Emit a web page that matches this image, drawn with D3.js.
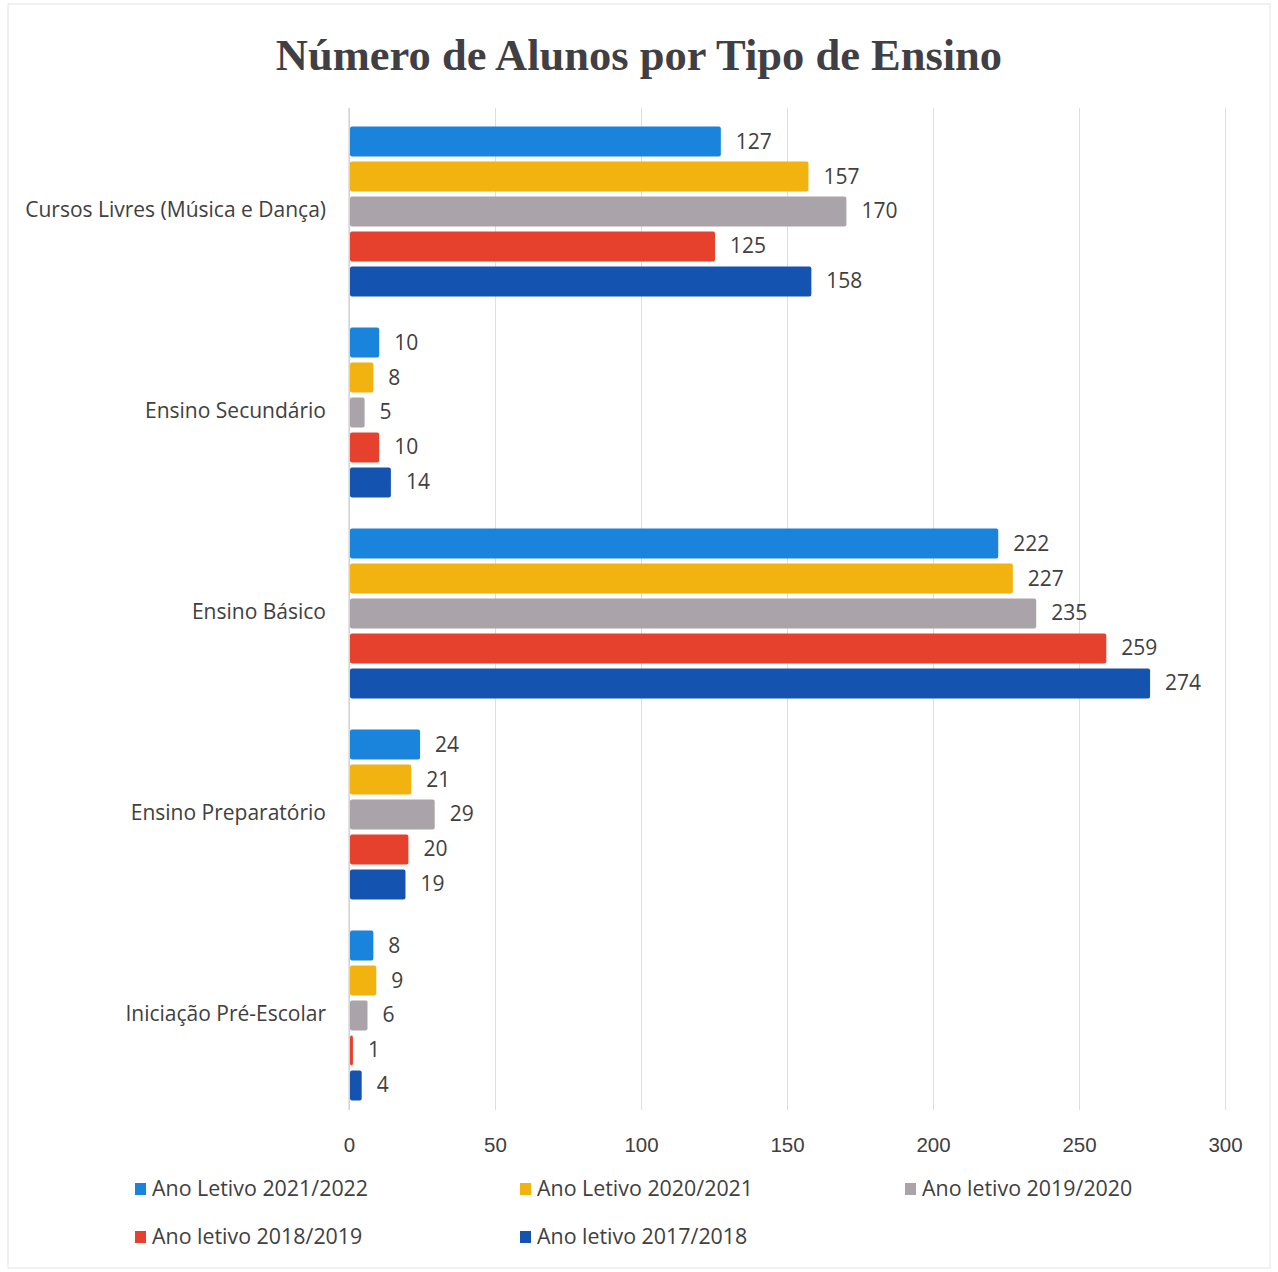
<!DOCTYPE html>
<html>
<head>
<meta charset="utf-8">
<script src="https://cdn.jsdelivr.net/npm/d3@7"></script>
<style>
  body { margin: 0; background: #fff; }
  svg text { fill: #404040; }
</style>
</head>
<body>
<div id="chart"></div>
<script>
// categorias (de cima para baixo)
const categorias = ["Cursos Livres (Música e Dança)", "Ensino Secundário", "Ensino Básico", "Ensino Preparatório", "Iniciação Pré-Escolar"]
// séries (anos letivos)
const series = ["Ano Letivo 2021/2022", "Ano Letivo 2020/2021", "Ano letivo 2019/2020", "Ano letivo 2018/2019", "Ano letivo 2017/2018"]
const cores = ["#1a84dc", "#f2b20f", "#aaa3a9", "#e6412c", "#1453b0"]
// valores por série, na ordem das categorias
const v2021 = [127, 10, 222, 24, 8]
const v2020 = [157, 8, 227, 21, 9]
const v2019 = [170, 5, 235, 29, 6]
const v2018 = [125, 10, 259, 20, 1]
const v2017 = [158, 14, 274, 19, 4]
const valores = [v2021, v2020, v2019, v2018, v2017]
const ticks = [0, 50, 100, 150, 200, 250, 300]

const W = 1278, H = 1272
const svg = d3.select("#chart").append("svg")
    .attr("width", W).attr("height", H)
    .style("font-family", "'Open Sans', 'Noto Sans', sans-serif")

// moldura ténue
svg.append("rect")
    .attr("x", 8).attr("y", 4).attr("width", W - 16).attr("height", H - 8)
    .attr("fill", "none").attr("stroke", "#e4e4e4")

// titulo
svg.append("text")
    .attr("x", 639).attr("y", 70)
    .attr("text-anchor", "middle")
    .style("font-family", "'Liberation Serif', serif")
    .style("font-weight", "bold")
    .style("font-size", "44.5px")
    .style("fill", "#3f3f44")
    .text("Número de Alunos por Tipo de Ensino")

// escalas
const x = d3.scaleLinear().domain([0, 300]).range([349, 1225])
const y = d3.scaleBand().domain(categorias).range([111, 1116])
    .paddingInner(0.13).paddingOuter(0.065)
const ySub = d3.scaleBand().domain(d3.range(series.length)).range([0, y.bandwidth()])
    .paddingInner(0.143).paddingOuter(0.0715)

// grelha
const gx = svg.append("g")
    .attr("transform", "translate(0,1110)")
    .call(d3.axisBottom(x).tickValues(ticks).tickSize(-1002).tickPadding(27))
gx.select(".domain").remove()
gx.selectAll(".tick line").attr("stroke", "#dedede")
gx.selectAll(".tick text").style("font-size", "20.5px").style("fill", "#404040")

// eixo vertical
svg.append("line")
    .attr("x1", x(0)).attr("x2", x(0)).attr("y1", 108).attr("y2", 1110)
    .attr("stroke", "#c8c8c8")

// rotulos das categorias
svg.append("g").selectAll("text")
    .data(categorias)
    .join("text")
    .attr("x", 326)
    .attr("y", d => y(d) + y.bandwidth() / 2 + 5)
    .attr("text-anchor", "end")
    .style("font-size", "21px")
    .text(d => d)

// barras
const grupos = svg.append("g").selectAll("g")
    .data(categorias)
    .join("g")
    .attr("transform", d => "translate(0," + y(d) + ")")

grupos.selectAll("rect")
    .data((d, i) => valores.map((s, k) => ({ k: k, v: s[i] })))
    .join("rect")
    .attr("x", x(0) + 1)
    .attr("y", d => ySub(d.k))
    .attr("width", d => x(d.v) - x(0))
    .attr("height", ySub.bandwidth())
    .attr("rx", 2)
    .attr("fill", d => cores[d.k])

grupos.selectAll("text")
    .data((d, i) => valores.map((s, k) => ({ k: k, v: s[i] })))
    .join("text")
    .attr("x", d => x(d.v) + 16)
    .attr("y", d => ySub(d.k) + ySub.bandwidth() / 2 + 7)
    .style("font-size", "21px")
    .text(d => d.v)

// legenda
const legX = [135, 520, 905]
const leg = svg.append("g").selectAll("g")
    .data(series)
    .join("g")
    .attr("transform", (d, i) => "translate(" + legX[i % 3] + "," + (i < 3 ? 1196 : 1244) + ")")
leg.append("rect")
    .attr("x", 0).attr("y", -13).attr("width", 11).attr("height", 12)
    .attr("fill", (d, i) => cores[i])
leg.append("text")
    .attr("x", 17).attr("y", 0)
    .style("font-size", "21.4px")
    .text(d => d)
</script>
</body>
</html>
